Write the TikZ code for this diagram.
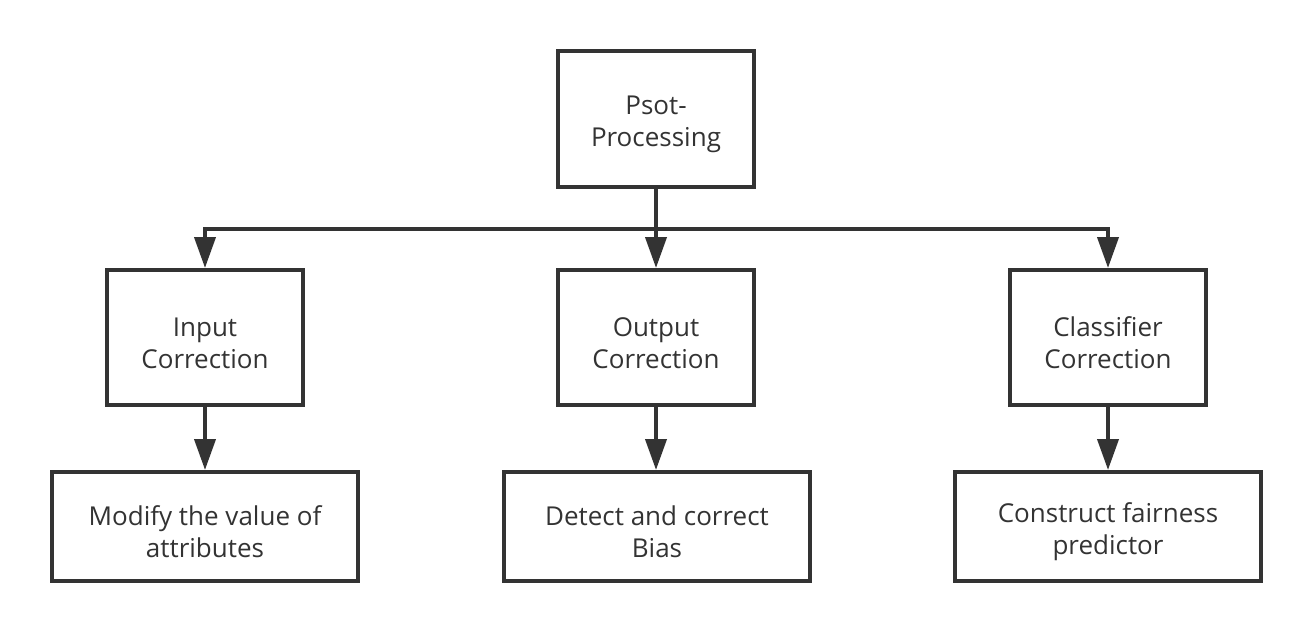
\documentclass[tikz,border=0pt]{standalone}
\usepackage{fontspec}
\setmainfont{Open Sans}
\usetikzlibrary{arrows.meta}
\definecolor{ink}{HTML}{333333}
\newcommand{\topstrut}{\rule{0pt}{30pt}}
\begin{document}
\begin{tikzpicture}[x=1pt,y=-1pt,
  box/.style={draw=ink, line width=4pt, text=ink, align=center, inner sep=0pt,
    font=\fontsize{26}{32}\selectfont},
  midbox/.style={box, minimum width=196pt, minimum height=135pt},
  leafbox/.style={box, minimum width=306pt, minimum height=109pt},
  conn/.style={draw=ink, line width=4pt, -{Triangle[width=21pt,length=31pt]}}
]
\useasboundingbox (0,0) rectangle (1314,634);
\node[midbox, minimum height=136pt] (top) at (656,119) {\topstrut Psot-\\Processing};
\node[midbox] (inp) at (205,337.5) {\topstrut Input\\Correction};
\node[midbox] (outp) at (656,337.5) {\topstrut Output\\Correction};
\node[midbox] (cls) at (1108,337.5) {\topstrut Classifier\\Correction};
\node[leafbox] (mod) at (205,526.5) {\topstrut Modify the value of\\attributes};
\node[leafbox] (det) at (657,526.5) {\topstrut Detect and correct\\Bias};
\node[leafbox] (con) at (1108,526.5) {\topstrut Construct fairness\\predictor};
\coordinate (jm) at (656,229);
\draw[draw=ink, line width=4pt] (top.south) -- (jm);
\draw[conn] (jm) -| (inp.north);
\draw[conn] (jm) -| (cls.north);
\draw[conn] (jm) -- (outp.north);
\draw[conn] (inp.south) -- (mod.north -| inp.south);
\draw[conn] (outp.south) -- (det.north -| outp.south);
\draw[conn] (cls.south) -- (con.north -| cls.south);
\end{tikzpicture}
\end{document}
